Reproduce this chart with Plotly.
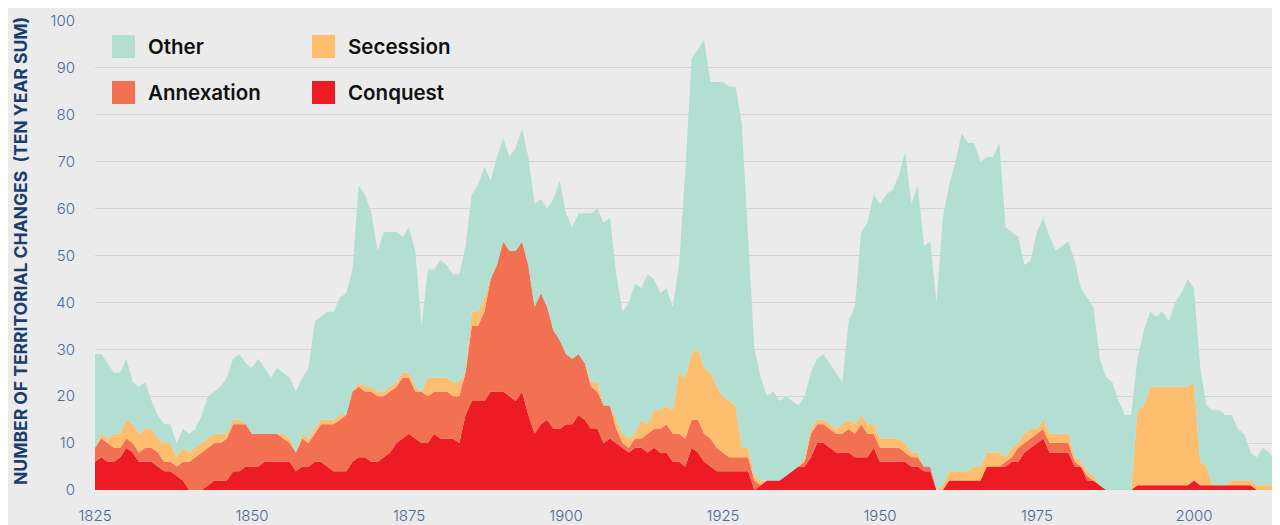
import plotly.graph_objects as go

years = list(range(1825, 2015))

conquest = [6,7,6,6,7,9,8,6,6,6,5,4,4,3,2,0,0,0,1,2,2,2,4,4,5,5,5,6,6,6,
            6,6,4,5,5,6,6,5,4,4,4,6,7,7,6,6,7,8,10,11,12,11,10,10,12,11,11,11,10,16,
            19,19,19,21,21,21,20,19,21,16,12,14,15,13,13,14,14,16,15,13,13,10,11,10,9,8,9,9,8,9,
            8,8,6,6,5,9,8,6,5,4,4,4,4,4,4,0,1,2,2,2,3,4,5,5,7,10,10,9,8,8,
            8,7,7,7,9,6,6,6,6,6,5,5,4,4,0,0,2,2,2,2,2,2,5,5,5,5,6,6,8,9,
            10,11,8,8,8,8,5,5,2,2,1,0,0,0,0,0,1,1,1,1,1,1,1,1,1,2,1,1,1,1,
            1,1,1,1,1,0,0,0,0,1]
annexation = [3,4,4,3,2,2,2,2,3,3,3,2,2,2,4,6,7,8,8,8,8,9,10,10,9,7,7,6,6,6,
              5,4,4,6,5,6,8,9,10,11,12,15,15,14,15,14,13,13,12,13,12,10,11,10,9,10,10,9,10,9,
              16,16,19,24,27,32,31,32,32,32,27,28,24,21,19,15,14,13,12,9,8,8,7,3,1,1,2,2,4,4,
              5,6,6,6,6,6,7,6,6,5,4,3,3,3,3,2,0,0,0,0,0,0,0,1,5,4,4,4,4,4,
              5,5,7,5,3,3,3,3,3,2,2,2,1,1,0,0,0,0,0,0,0,0,0,0,0,1,1,3,2,2,
              2,2,2,2,2,2,1,0,1,0,0,0,0,0,0,0,0,0,0,0,0,0,0,0,0,0,0,0,0,0,
              0,0,0,0,0,0,0,0,0,0]
secession = [0,1,1,3,3,4,4,4,4,4,3,4,4,2,3,2,2,2,2,2,2,1,1,1,0,0,0,0,0,0,
             1,1,0,1,1,1,1,1,1,1,0,0,1,1,1,1,1,1,1,1,1,1,0,4,3,3,3,3,3,0,
             3,3,3,0,0,0,0,0,0,0,0,0,0,0,0,0,0,0,0,1,2,0,0,2,2,2,1,4,2,4,
             4,4,5,13,13,14,15,14,14,13,12,12,11,2,2,1,1,0,0,0,0,0,0,1,1,1,1,1,1,2,
             2,2,2,2,2,2,2,2,2,2,1,1,0,0,0,1,2,2,2,2,3,3,3,3,3,1,2,1,2,2,
             1,2,2,2,2,2,1,1,1,1,0,0,0,0,0,0,16,17,21,21,21,21,21,21,21,21,5,4,0,0,
             0,1,1,1,1,1,1,1,1,1]
other = [20,17,16,13,13,13,9,10,10,6,5,4,4,3,4,4,4,6,9,9,10,12,13,14,13,14,16,14,12,14,
         13,13,13,12,15,23,22,23,23,25,26,26,42,41,37,30,34,33,32,29,31,29,14,23,23,25,24,23,23,27,
         25,27,28,21,23,22,20,22,24,23,22,20,21,28,34,30,28,30,32,36,37,39,40,31,26,29,32,28,32,28,
         25,25,22,23,44,63,64,70,62,65,67,67,68,69,45,27,22,18,19,17,17,15,13,13,12,13,14,13,12,9,
         21,25,39,43,49,50,52,53,56,62,53,57,47,48,40,57,61,66,72,70,69,65,63,63,66,49,46,44,36,36,
         42,43,42,39,40,41,42,37,37,36,27,24,23,19,16,16,11,16,16,15,16,14,18,20,23,20,20,13,16,16,
         15,14,11,10,6,6,8,7,5,4]

tick_years = [1825, 1850, 1875, 1900, 1925, 1950, 1975, 2000]
y_ticks = [0, 10, 20, 30, 40, 50, 60, 70, 80, 90, 100]

series = [
    ("Conquest", conquest, "#ed1c24"),
    ("Annexation", annexation, "#f37153"),
    ("Secession", secession, "#fdbf6f"),
    ("Other", other, "#b3dfd2"),
]

# The page places the figure 8px from the top-left corner (default body margin),
# so the figure is 8px smaller and page pixel targets are converted below.
OFF = 8
W, H = 1280 - OFF, 525 - OFF
PLOT_L, PLOT_T, PLOT_B = 95, 21, 490          # page pixels
L, T, R = PLOT_L - OFF, PLOT_T - OFF, 0
B = H - (PLOT_B - OFF)
PW, PH = W - L - R, H - T - B


def px_x(px):
    return (px - PLOT_L) / PW


def px_y(py):
    return (PLOT_B - py) / PH


fig = go.Figure()
for name, vals, col in series:
    fig.add_trace(go.Scatter(
        x=years, y=vals, name=name, mode="lines", stackgroup="one",
        line=dict(width=0, color=col), fillcolor=col, showlegend=False,
        hoverinfo="x+y+name",
    ))

tick_font = dict(family="Inter, Roboto, sans-serif", size=15, color="#4a6a94", weight=300)

x_end = 1825 + (1280 - PLOT_L) / 6.28

fig.update_layout(
    width=W, height=H,
    margin=dict(l=L, r=R, t=T, b=B, pad=0, autoexpand=False),
    paper_bgcolor="#ebebeb", plot_bgcolor="#ebebeb",
    showlegend=False,
    xaxis=dict(range=[1825, x_end], tickvals=tick_years, ticktext=[str(t) for t in tick_years],
               showgrid=False, zeroline=False, showline=False, ticks="", automargin=False,
               tickfont=tick_font, ticklabelstandoff=15, fixedrange=True),
    yaxis=dict(range=[0, 100], tickvals=y_ticks, showgrid=True, gridcolor="#d3d3d3", gridwidth=1,
               zeroline=False, showline=False, ticks="", tickfont=tick_font, automargin=False,
               ticklabelstandoff=19, fixedrange=True),
)

# y-axis title
fig.add_annotation(
    x=px_x(20), y=px_y(251), xref="paper", yref="paper", showarrow=False,
    text="NUMBER OF TERRITORIAL CHANGES  (TEN YEAR SUM)", textangle=-90,
    font=dict(family="Inter, Roboto, sans-serif", size=17.5, color="#1b3d6e", weight=700),
    xanchor="center", yanchor="middle",
)

# legend (2x2 grid)
legend_items = [("Other", "#b3dfd2", 112, 35), ("Secession", "#fdbf6f", 312, 35),
                ("Annexation", "#f37153", 112, 81), ("Conquest", "#ed1c24", 312, 81)]
for name, col, lx, ly in legend_items:
    fig.add_shape(type="rect", xref="paper", yref="paper",
                  x0=px_x(lx), x1=px_x(lx + 23), y0=px_y(ly + 23), y1=px_y(ly),
                  fillcolor=col, line=dict(width=0), layer="above")
    fig.add_annotation(x=px_x(lx + 34), y=px_y(ly + 11.5), xref="paper", yref="paper",
                       text=name, showarrow=False, xanchor="left", yanchor="middle",
                       font=dict(family="Inter, Roboto, sans-serif", size=20.5, color="#111111", weight=600))

fig.write_html("out.html")
